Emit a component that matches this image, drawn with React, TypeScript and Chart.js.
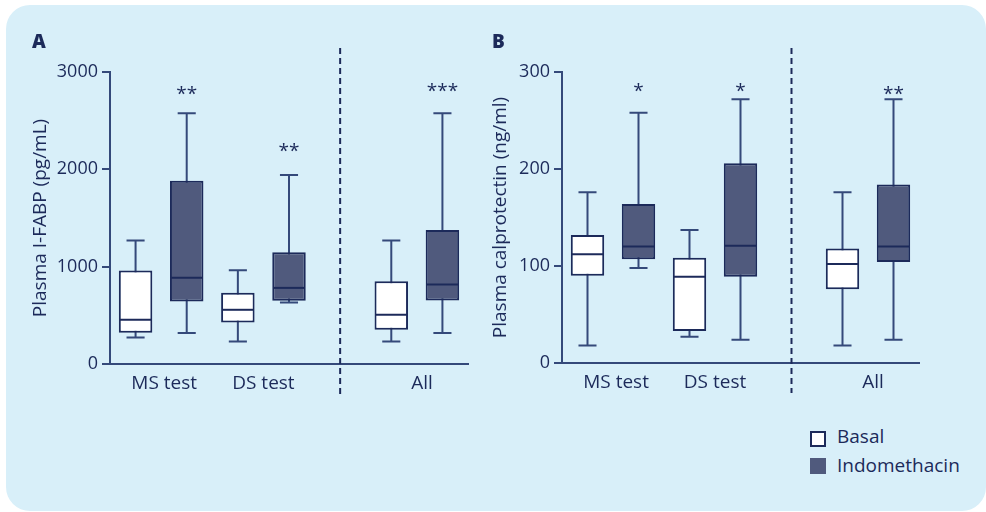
import React, { useEffect, useRef } from 'react';
import { Chart, registerables } from 'chart.js';

Chart.register(...registerables);

// ---------- data ----------
const slots = ['MS test Basal', 'MS test Indomethacin', 'DS test Basal', 'DS test Indomethacin', '', 'All Basal', 'All Indomethacin'];
const slotSeries = ['Basal', 'Indomethacin', 'Basal', 'Indomethacin', null, 'Basal', 'Indomethacin'];
const groupNames = ['MS test', 'DS test', 'All'];
const groupCenters = [0.56, 2.5, 5.6];
const dividerSlot = 4;
const seriesNames = ['Basal', 'Indomethacin'];

// Panel A: Plasma I-FABP (pg/mL)
const aMin = [273, 318, 232, 632, null, 232, 318];
const aQ1 = [321, 642, 427, 649, null, 351, 653];
const aMed = [454, 885, 557, 782, null, 505, 817];
const aQ3 = [960, 1883, 731, 1148, null, 851, 1377];
const aMax = [1268, 2577, 964, 1941, null, 1268, 2577];
const aSig = ['', '**', '', '**', '', '', '***'];
const aSigY = [null, 2820, null, 2230, null, null, 2850];
const aTickStep = 1000;
const aMaxY = 3000;

// Panel B: Plasma calprotectin (ng/ml)
const bMin = [18, 98, 27, 24, null, 18, 24];
const bQ1 = [90, 107, 33, 89, null, 76, 104];
const bMed = [112, 120, 89, 121, null, 102, 120];
const bQ3 = [132, 164, 108.5, 206, null, 118, 184];
const bMax = [176, 258, 137, 272, null, 176, 272];
const bSig = ['', '*', '', '*', '', '', '**'];
const bSigY = [null, 285, null, 285, null, null, 282];
const bTickStep = 100;
const bMaxY = 300;

// ---------- style ----------
const NAVY = '#1c2a5a';
const AXIS = '#34497a';
const DARK_FILL = '#505a7d';
const BG = '#d8eff9';
const FONT = "'Open Sans', 'Noto Sans', sans-serif";

type BoxData = {
  min: (number | null)[];
  q1: (number | null)[];
  med: (number | null)[];
  q3: (number | null)[];
  max: (number | null)[];
  sig: string[];
  sigY: (number | null)[];
};

function makeBoxPlugin(d: BoxData) {
  return {
    id: 'boxWhiskers',
    beforeDatasetsDraw(chart: any) {
      const { ctx, chartArea } = chart;
      const ys = chart.scales.y;
      const meta = chart.getDatasetMeta(0);
      ctx.save();
      // dashed divider
      const xd = chart.scales.x.getPixelForValue(dividerSlot);
      ctx.strokeStyle = NAVY;
      ctx.lineWidth = 2;
      ctx.setLineDash([6, 4]);
      ctx.beginPath();
      ctx.moveTo(xd, chartArea.top - 24);
      ctx.lineTo(xd, chartArea.bottom + 30);
      ctx.stroke();
      ctx.setLineDash([]);
      // whiskers
      ctx.strokeStyle = AXIS;
      ctx.lineWidth = 2;
      meta.data.forEach((bar: any, i: number) => {
        if (d.min[i] == null) return;
        const x = bar.x;
        const half = (bar.width * 0.54) / 2;
        const yl = ys.getPixelForValue(d.min[i]);
        const yh = ys.getPixelForValue(d.max[i]);
        ctx.beginPath();
        ctx.moveTo(x, yl);
        ctx.lineTo(x, yh);
        ctx.moveTo(x - half, yl);
        ctx.lineTo(x + half, yl);
        ctx.moveTo(x - half, yh);
        ctx.lineTo(x + half, yh);
        ctx.stroke();
      });
      ctx.restore();
    },
    afterDatasetsDraw(chart: any) {
      const { ctx } = chart;
      const ys = chart.scales.y;
      const meta = chart.getDatasetMeta(0);
      ctx.save();
      ctx.strokeStyle = NAVY;
      ctx.lineWidth = 2;
      meta.data.forEach((bar: any, i: number) => {
        if (d.med[i] == null) return;
        const ym = ys.getPixelForValue(d.med[i]);
        ctx.beginPath();
        ctx.moveTo(bar.x - bar.width / 2 + 1, ym);
        ctx.lineTo(bar.x + bar.width / 2 - 1, ym);
        ctx.stroke();
      });
      ctx.fillStyle = NAVY;
      ctx.font = `19px ${FONT}`;
      ctx.textAlign = 'center';
      ctx.textBaseline = 'alphabetic';
      meta.data.forEach((bar: any, i: number) => {
        if (!d.sig[i] || d.sigY[i] == null) return;
        const yc = ys.getPixelForValue(d.sigY[i]);
        ctx.fillText(d.sig[i], bar.x, yc + 10.5);
      });
      ctx.restore();
    },
  };
}

type PanelProps = {
  data: BoxData;
  yMax: number;
  step: number;
  title: string;
  width: number;
  height: number;
  left: number;
  yWidth: number;
  rightPad: number;
  xHeight: number;
  titlePad: number;
};

function BoxPanel(p: PanelProps) {
  const ref = useRef<HTMLCanvasElement | null>(null);
  useEffect(() => {
    if (!ref.current) return;
    const d = p.data;
    const chart = new Chart(ref.current, {
      type: 'bar',
      data: {
        labels: slots,
        datasets: [
          {
            label: 'box',
            data: slots.map((_, i) => (d.q1[i] == null ? null : [d.q1[i], d.q3[i]])) as any,
            backgroundColor: slotSeries.map((s) => (s === 'Indomethacin' ? DARK_FILL : '#ffffff')),
            borderColor: NAVY,
            borderWidth: 2,
            borderSkipped: false,
            barPercentage: 0.655,
            categoryPercentage: 1,
          },
        ],
      },
      options: {
        responsive: false,
        animation: false,
        events: [],
        layout: { padding: { top: 72, right: p.rightPad, left: 0, bottom: 0 } },
        plugins: { legend: { display: false }, tooltip: { enabled: false } },
        scales: {
          x: { type: 'category', display: false },
          x2: {
            type: 'linear',
            position: 'bottom',
            min: -0.5,
            max: 6.5,
            offset: false,
            afterBuildTicks: (s: any) => {
              s.ticks = groupCenters.map((v) => ({ value: v }));
            },
            afterFit: (s: any) => {
              s.height = p.xHeight;
            },
            ticks: {
              autoSkip: false,
              maxRotation: 0,
              padding: 8,
              color: NAVY,
              font: { family: FONT, size: 19 },
              callback: (v: any) => {
                const k = groupCenters.findIndex((c) => Math.abs(c - Number(v)) < 1e-6);
                return k >= 0 ? groupNames[k] : '';
              },
            },
            grid: { display: false, drawTicks: false, offset: false },
            border: { display: true, color: AXIS, width: 2 },
          },
          y: {
            type: 'linear',
            min: 0,
            max: p.yMax,
            afterFit: (s: any) => {
              s.width = p.yWidth;
            },
            ticks: {
              stepSize: p.step,
              padding: 4,
              color: NAVY,
              font: { family: FONT, size: 18 },
              callback: (v: any) => String(v),
            },
            grid: { drawOnChartArea: false, drawTicks: true, tickLength: 8, color: AXIS, lineWidth: 2 },
            border: { display: true, color: AXIS, width: 2 },
            title: {
              display: true,
              text: p.title,
              color: NAVY,
              font: { family: FONT, size: 19 },
              padding: { top: p.titlePad, bottom: 0 },
            },
          },
        } as any,
      },
      plugins: [makeBoxPlugin(d)],
    });
    return () => chart.destroy();
  }, []);
  return (
    <canvas
      ref={ref}
      width={p.width}
      height={p.height}
      style={{ position: 'absolute', left: p.left, top: 0, width: p.width, height: p.height }}
    />
  );
}

export default function App() {
  const textStyle: React.CSSProperties = {
    position: 'absolute',
    fontFamily: FONT,
    fontSize: 19,
    lineHeight: '19px',
    color: NAVY,
    whiteSpace: 'nowrap',
  };
  return (
    <div style={{ position: 'absolute', left: 0, top: 0, width: 986, height: 512, overflow: 'hidden', background: '#ffffff' }}>
      <div style={{ position: 'absolute', left: 6, top: 5, width: 980, height: 506, borderRadius: 24, background: BG }} />
      <BoxPanel
        data={{ min: aMin, q1: aQ1, med: aMed, q3: aQ3, max: aMax, sig: aSig, sigY: aSigY }}
        yMax={aMaxY}
        step={aTickStep}
        title="Plasma I-FABP (pg/mL)"
        width={480}
        height={420}
        left={0}
        yWidth={110}
        rightPad={12}
        xHeight={56}
        titlePad={29}
      />
      <BoxPanel
        data={{ min: bMin, q1: bQ1, med: bMed, q3: bQ3, max: bMax, sig: bSig, sigY: bSigY }}
        yMax={bMaxY}
        step={bTickStep}
        title="Plasma calprotectin (ng/ml)"
        width={506}
        height={420}
        left={480}
        yWidth={82}
        rightPad={67}
        xHeight={57}
        titlePad={9}
      />
      <div style={{ ...textStyle, left: 32, top: 32, fontWeight: 800 }}>A</div>
      <div style={{ ...textStyle, left: 492, top: 32, fontWeight: 800 }}>B</div>
      <div style={{ position: 'absolute', left: 810, top: 431, width: 16, height: 16, boxSizing: 'border-box', border: `2px solid ${NAVY}`, background: '#ffffff' }} />
      <div style={{ ...textStyle, left: 837, top: 427 }}>{seriesNames[0]}</div>
      <div style={{ position: 'absolute', left: 810, top: 458, width: 16, height: 16, background: DARK_FILL }} />
      <div style={{ ...textStyle, left: 837, top: 455.5 }}>{seriesNames[1]}</div>
    </div>
  );
}
